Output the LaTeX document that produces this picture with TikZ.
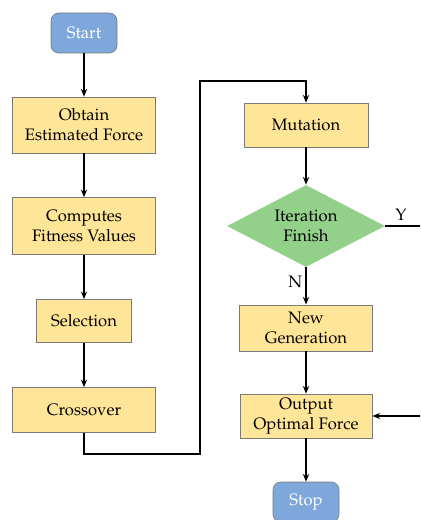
\documentclass[tikz,border=0pt]{standalone}
\usepackage[T1]{fontenc}
\usepackage{mathpazo}
\usepackage{xcolor}
\definecolor{startblue}{HTML}{7EA8DC}
\definecolor{boxyellow}{HTML}{FFE597}
\definecolor{decgreen}{HTML}{93D08A}
\definecolor{edgegray}{HTML}{7A7A7A}
\usepackage{tikz}
\usetikzlibrary{calc,positioning,shapes.geometric,arrows.meta}
\tikzset{
    term/.style={
    rectangle,rounded corners=5pt,draw=edgegray,fill=startblue,text=white,minimum width=42.9pt,minimum height=26pt,inner sep=2pt
    },
    proc/.style={
    rectangle,draw=edgegray,fill=boxyellow,align=center,inner sep=2pt
    },
    decide/.style={
    diamond,aspect=1.93,fill=decgreen,align=center,minimum width=102.7pt,minimum height=53.3pt,inner sep=0pt
    },
  line/.style={draw, line width=0.95pt, -{Stealth[length=5pt,width=4pt]}},
}

\begin{document}
\begin{tikzpicture}[x=0.65pt,y=-0.65pt,every node/.style={font=\fontsize{10.8pt}{12.8pt}\selectfont}]
\clip (0,0) rectangle (420,520);

  \node[term] (start) at (84,33) {Start};
  \node[proc,minimum width=93pt,minimum height=36.4pt] (obtain) at (84,125) {Obtain\\Estimated Force};
  \node[proc,minimum width=93pt,minimum height=37pt] (fitness) at (84,226) {Computes\\Fitness Values};
  \node[proc,minimum width=61.8pt,minimum height=28pt] (select) at (84,321) {Selection};
  \node[proc,minimum width=93pt,minimum height=29.2pt] (cross) at (84,410) {Crossover};

  \node[proc,minimum width=80.6pt,minimum height=28.6pt] (mutate) at (306,125) {Mutation};
  \node[decide] (iter) at (306,226) {Iteration\\Finish};
  \node[proc,minimum width=86.5pt,minimum height=30pt] (newgen) at (306,328) {New\\Generation};
  \node[proc,minimum width=85.8pt,minimum height=28.6pt] (output) at (306,416) {Output\\Optimal Force};
  \node[term] (stop) at (306,502) {Stop};

  \coordinate (loopa) at (200,454);
  \coordinate (loopb) at (200,81);
  \coordinate (yr) at (445,416);

  \path[line] (start) -- (obtain);
  \path[line] (obtain) -- (fitness);
  \path[line] (fitness) -- (select);
  \path[line] (select) -- (cross);
  \path[line] (cross.south) |- (loopa) -- (loopb) -| (mutate.north);
  \path[line] (mutate) -- (iter);
  \path[line] (iter.south) -- node[left,pos=0.38,inner sep=2pt] {N} (newgen.north);
  \path[line] (newgen) -- (output);
  \path[line] (output) -- (stop);
  \path[line] (iter.east) -| node[above,pos=0.13,inner sep=3pt] {Y} (yr) -- (output.east);
\end{tikzpicture}
\end{document}
